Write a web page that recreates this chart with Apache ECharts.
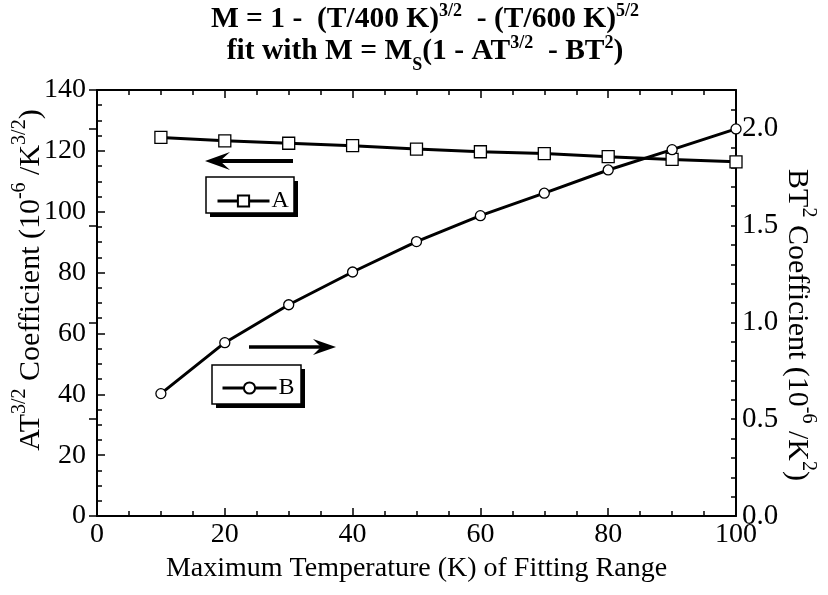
<!DOCTYPE html>
<html>
<head>
<meta charset="utf-8">
<script src="https://cdn.jsdelivr.net/npm/echarts@6/dist/echarts.min.js"></script>
<style>html,body{margin:0;padding:0;background:#fff;}#c{width:828px;height:595px;}</style>
</head>
<body>
<div id="c"></div>
<script>
// ---- data ----
var temperatures = [10, 20, 30, 40, 50, 60, 70, 80, 90, 100];
var seriesA = [124.4, 123.3, 122.5, 121.7, 120.6, 119.7, 119.1, 118.1, 117.2, 116.4];
var seriesB = [0.632, 0.895, 1.091, 1.260, 1.417, 1.551, 1.667, 1.787, 1.892, 1.999];
var xTicks = [0, 20, 40, 60, 80, 100];
var leftTicks = [0, 20, 40, 60, 80, 100, 120, 140];
var rightTicks = [0.0, 0.5, 1.0, 1.5, 2.0];

var FONT = 'Liberation Serif';
var chart = echarts.init(document.getElementById('c'), null, {renderer: 'canvas'});

function pairs(xs, ys) { return xs.map(function (x, i) { return [x, ys[i]]; }); }

var titleRich = {
  b: {fontFamily: FONT, fontWeight: 'bold', fontSize: 29.5, lineHeight: 32, verticalAlign: 'bottom', color: '#000'},
  s: {fontFamily: FONT, fontWeight: 'bold', fontSize: 18, lineHeight: 32, verticalAlign: 'top', color: '#000'},
  d: {fontFamily: FONT, fontWeight: 'bold', fontSize: 18, lineHeight: 22, verticalAlign: 'bottom', color: '#000', padding: [0, 0, -8, 0]}
};

var nameRich = {
  n: {fontFamily: FONT, fontSize: 30, color: '#000', lineHeight: 36, verticalAlign: 'bottom'},
  s: {fontFamily: FONT, fontSize: 20, color: '#000', lineHeight: 36, verticalAlign: 'top'}
};

function legendCfg(name, left, top, w) {
  return {
    data: [name], left: left, top: top, orient: 'horizontal',
    itemWidth: w, itemHeight: 14, itemGap: 0, padding: 0,
    backgroundColor: 'transparent', borderWidth: 0, z: 10,
    lineStyle: {width: 3, color: '#000'},
    textStyle: {fontFamily: FONT, fontSize: 24, color: '#000', padding: [3, 0, 0, -3]}
  };
}

function rightLabel(v) {
  for (var i = 0; i < rightTicks.length; i++) {
    if (Math.abs(v - rightTicks[i]) < 1e-6) return rightTicks[i].toFixed(1);
  }
  return '';
}

var option = {
  backgroundColor: '#fff',
  animation: false,
  title: {
    text: '{b|M = 1 -  (T/400 K)}{s|3/2}{b|  - (T/600 K)}{s|5/2}\n{b|fit with M = M}{d|S}{b|(1 - AT}{s|3/2}{b|  - BT}{s|2}{b|)}',
    left: 425,
    textAlign: 'center',
    top: 2,
    padding: 0,
    textStyle: {rich: titleRich, fontFamily: FONT, fontWeight: 'bold', fontSize: 29, color: '#000'}
  },
  grid: {left: 97, right: 92, top: 90, bottom: 79, containLabel: false, outerBoundsMode: 'none'},
  legend: [legendCfg('A', 216, 189, 52), legendCfg('B', 221, 376, 54)],
  xAxis: [
    {
      type: 'value', min: 0, max: 100, interval: 20, position: 'bottom',
      name: 'Maximum Temperature (K) of Fitting Range',
      nameLocation: 'middle', nameGap: 39,
      nameTextStyle: {fontFamily: FONT, fontSize: 28, color: '#000'},
      axisLine: {show: true, onZero: false, lineStyle: {color: '#000', width: 2}},
      axisTick: {show: true, inside: true, length: 8, lineStyle: {color: '#000', width: 1.5}},
      minorTick: {show: true, splitNumber: 4, length: 5, lineStyle: {color: '#000', width: 1.5}},
      axisLabel: {fontFamily: FONT, fontSize: 28, color: '#000', margin: 5},
      splitLine: {show: false}
    },
    {
      type: 'value', min: 0, max: 100, interval: 20, position: 'top',
      axisLine: {show: true, onZero: false, lineStyle: {color: '#000', width: 2}},
      axisTick: {show: true, inside: true, length: 8, lineStyle: {color: '#000', width: 1.5}},
      minorTick: {show: true, splitNumber: 4, length: 5, lineStyle: {color: '#000', width: 1.5}},
      axisLabel: {show: false},
      splitLine: {show: false}
    }
  ],
  yAxis: [
    {
      type: 'value', min: 0, max: 140, interval: 20, position: 'left',
      axisLine: {show: true, onZero: false, lineStyle: {color: '#000', width: 2}},
      axisTick: {show: true, inside: true, length: 8, lineStyle: {color: '#000', width: 1.5}},
      minorTick: {show: true, splitNumber: 4, length: 5, lineStyle: {color: '#000', width: 1.5}},
      axisLabel: {fontFamily: FONT, fontSize: 28, color: '#000', margin: 11},
      splitLine: {show: false}
    },
    {
      type: 'value', min: 0, max: 2.2, interval: 0.1, position: 'right',
      axisLine: {show: true, onZero: false, lineStyle: {color: '#000', width: 2}},
      axisTick: {show: true, inside: true, length: 5, lineStyle: {color: '#000', width: 1.5}},
      axisLabel: {fontFamily: FONT, fontSize: 29, color: '#000', margin: 6, formatter: rightLabel},
      splitLine: {show: false}
    },
    {
      // longer major ticks at the labelled values of the right axis
      type: 'value', min: 0, max: 2.2, interval: 0.5, position: 'right',
      axisLine: {show: false},
      axisTick: {show: true, inside: true, length: 8, lineStyle: {color: '#000', width: 1.5}},
      axisLabel: {show: false},
      splitLine: {show: false}
    }
  ],
  series: [
    {
      name: 'A', type: 'line', xAxisIndex: 0, yAxisIndex: 0,
      data: pairs(temperatures, seriesA),
      symbol: 'rect', symbolSize: 12,
      lineStyle: {color: '#000', width: 3},
      itemStyle: {color: '#fff', borderColor: '#000', borderWidth: 1.3},
      z: 3
    },
    {
      name: 'B', type: 'line', xAxisIndex: 0, yAxisIndex: 1,
      data: pairs(temperatures, seriesB),
      symbol: 'circle', symbolSize: 10,
      lineStyle: {color: '#000', width: 3},
      itemStyle: {color: '#fff', borderColor: '#000', borderWidth: 1.3},
      z: 3
    }
  ],
  graphic: [
    // y-axis titles
    {type: 'text', z: 6, x: 28, y: 280, rotation: Math.PI / 2,
      style: {text: '{n|AT}{s|3/2}{n| Coefficient (10}{s|-6}{n| /K}{s|3/2}{n|)}', rich: nameRich,
        align: 'center', verticalAlign: 'middle', fill: '#000'}},
    {type: 'text', z: 6, x: 800, y: 325, rotation: -Math.PI / 2,
      style: {text: '{n|BT}{s|2}{n| Coefficient (10}{s|-6}{n| /K}{s|2}{n|)}', rich: nameRich,
        align: 'center', verticalAlign: 'middle', fill: '#000'}},
    // legend box A (drop shadow + frame)
    {type: 'rect', z: 5, shape: {x: 210, y: 181, width: 88, height: 36}, style: {fill: '#000'}},
    {type: 'rect', z: 6, shape: {x: 206, y: 177, width: 88, height: 36}, style: {fill: '#fff', stroke: '#000', lineWidth: 1.5}},
    // legend box B
    {type: 'rect', z: 5, shape: {x: 216, y: 369, width: 89, height: 39}, style: {fill: '#000'}},
    {type: 'rect', z: 6, shape: {x: 212, y: 365, width: 89, height: 39}, style: {fill: '#fff', stroke: '#000', lineWidth: 1.5}},
    // arrow pointing left (to left axis)
    {type: 'line', z: 6, shape: {x1: 293, y1: 161, x2: 216, y2: 161}, style: {stroke: '#000', lineWidth: 4}},
    {type: 'polygon', z: 6, shape: {points: [[205, 161], [230, 152], [220, 161], [230, 170]]}, style: {fill: '#000'}},
    // arrow pointing right (to right axis)
    {type: 'line', z: 6, shape: {x1: 249, y1: 347, x2: 326, y2: 347}, style: {stroke: '#000', lineWidth: 3.5}},
    {type: 'polygon', z: 6, shape: {points: [[336, 347], [313, 339], [321, 347], [313, 355]]}, style: {fill: '#000'}}
  ]
};
chart.setOption(option);
</script>
</body>
</html>
